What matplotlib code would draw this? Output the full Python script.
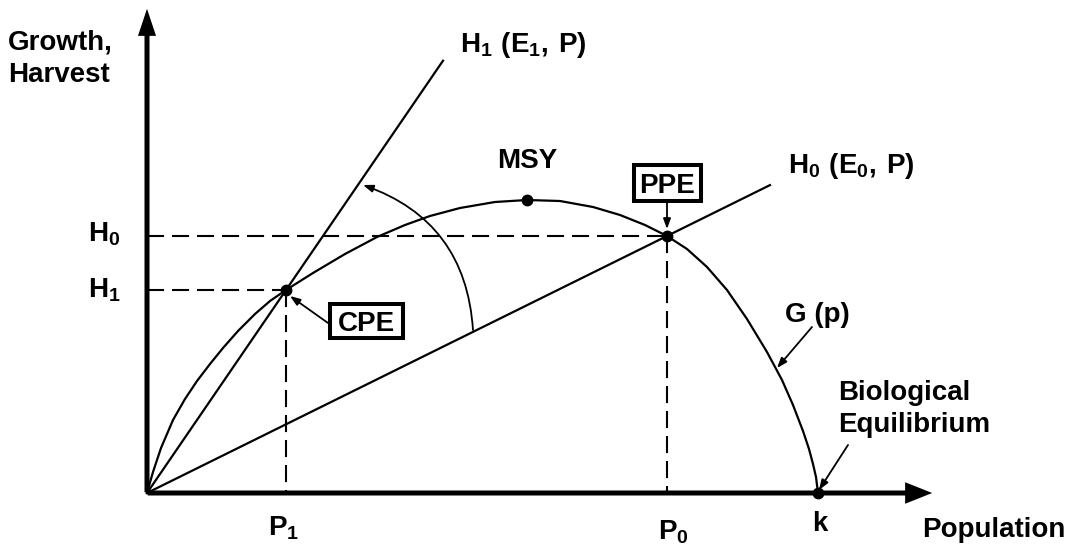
import matplotlib.pyplot as plt
from matplotlib.patches import FancyArrowPatch, Rectangle

plt.rcParams["font.family"] = ["Liberation Sans", "DejaVu Sans"]
plt.rcParams["mathtext.fontset"] = "custom"
plt.rcParams["mathtext.bf"] = "Liberation Sans:bold"
plt.rcParams["mathtext.rm"] = "Liberation Sans:bold"

# growth curve G(p) (population, growth)
G_pop = [0, 6, 14, 26, 38, 50, 63, 76, 91, 108, 123, 139, 166, 198, 230, 258,
         283, 313, 348, 380, 413, 446, 473, 498, 520, 540, 560, 580, 600, 620,
         635, 646, 656, 662, 666, 669, 671]
G_growth = [0, 21, 45, 73, 94, 112, 129, 145, 162, 179, 192, 203, 220, 239, 256,
            268, 277, 285, 291, 293, 292, 286, 278, 268, 257, 244, 226, 203, 174,
            141, 113, 88, 62, 44, 29, 16, 0]

# key points
P1, H1 = 139, 203      # CPE
P0, H0 = 520, 257      # PPE
MSY_P, MSY_G = 380, 293
K = 671
H1_end = 296           # end of the harvest lines
H0_end = 623

fig = plt.figure(figsize=(10.68, 5.55), dpi=100)
ax = fig.add_axes([0, 0, 1, 1])
ax.set_xlim(-147, 921)
ax.set_ylim(-62, 493)
ax.axis("off")

# axes with arrow heads
ax.add_patch(FancyArrowPatch((-2, 0), (788, 0), mutation_scale=1, color="black", lw=0,
                             arrowstyle="simple,head_length=19.5,head_width=15.5,tail_width=3.6"))
ax.add_patch(FancyArrowPatch((0, -2), (0, 487), mutation_scale=1, color="black", lw=0,
                             arrowstyle="simple,head_length=19.5,head_width=13,tail_width=3.6"))

# growth curve and harvest lines
ax.plot(G_pop, G_growth, color="black", lw=1.6, solid_joinstyle="round")
s1 = H1 / P1
s0 = H0 / P0
ax.plot([0, H1_end], [0, s1 * H1_end], color="black", lw=1.6)
ax.plot([0, H0_end], [0, s0 * H0_end], color="black", lw=1.6)

# dashed guides
dash = (0, (8.2, 3.8))
ax.plot([0, P0], [H0, H0], color="black", lw=1.5, linestyle=dash)
ax.plot([P0, P0], [H0, 0], color="black", lw=1.5, linestyle=dash)
ax.plot([0, P1], [H1, H1], color="black", lw=1.5, linestyle=dash)
ax.plot([P1, P1], [H1, 0], color="black", lw=1.5, linestyle=dash)

# points
ax.plot([P1, P0, MSY_P, K], [H1, H0, MSY_G, 0], "o", color="black", ms=7.5)

bold = dict(fontsize=20, fontweight="bold", color="black")

ax.text(-139, 443, "Growth,", ha="left", va="baseline", **bold)
ax.text(-139, 411, "Harvest", ha="left", va="baseline", **bold)
ax.text(775, -44, "Population", ha="left", va="baseline", **bold)

ax.text(-59, 251, r"$\mathbf{H_0}$", ha="left", va="baseline", fontsize=20)
ax.text(-59, 196, r"$\mathbf{H_1}$", ha="left", va="baseline", fontsize=20)
ax.text(121, -42, r"$\mathbf{P_1}$", ha="left", va="baseline", fontsize=20)
ax.text(511, -47, r"$\mathbf{P_0}$", ha="left", va="baseline", fontsize=20)
ax.text(673, -38, "k", ha="center", va="baseline", **bold)

ax.text(313, 441, r"$\mathbf{H_1\ (E_1,\,P)}$", ha="left", va="baseline", fontsize=20)
ax.text(641, 320, r"$\mathbf{H_0\ (E_0,\,P)}$", ha="left", va="baseline", fontsize=20)
ax.text(380, 325, "MSY", ha="center", va="baseline", **bold)
ax.text(638, 171, "G (p)", ha="left", va="baseline", **bold)
ax.text(691, 93, "Biological", ha="left", va="baseline", **bold)
ax.text(691, 61, "Equilibrium", ha="left", va="baseline", **bold)

# boxed labels
for cx, cy, w, h, label in [(219, 172, 73, 34, "CPE"), (520, 310, 67, 36, "PPE")]:
    ax.add_patch(Rectangle((cx - w / 2, cy - h / 2), w, h, fill=False,
                           edgecolor="black", lw=2.9, joinstyle="miter"))
    ax.text(cx, cy, label, ha="center", va="center_baseline", **bold)

# pointer arrows
small = dict(arrowstyle="-|>,head_length=0.6,head_width=0.22", color="black",
             lw=1.3, shrinkA=0, shrinkB=0, mutation_scale=10)
ax.annotate("", xy=(520, 264), xytext=(520, 292), arrowprops=small)
ax.annotate("", xy=(143, 197), xytext=(181, 170), arrowprops=small)
ax.annotate("", xy=(630, 125), xytext=(665, 166), arrowprops=small)
ax.annotate("", xy=(672, 3), xytext=(701, 48), arrowprops=small)

# rotation arrow from H0 to H1
ax.annotate("", xy=(216, 308), xytext=(326, 163),
            arrowprops=dict(small, connectionstyle="arc3,rad=0.33"))

fig.savefig("out.png", dpi=100)
